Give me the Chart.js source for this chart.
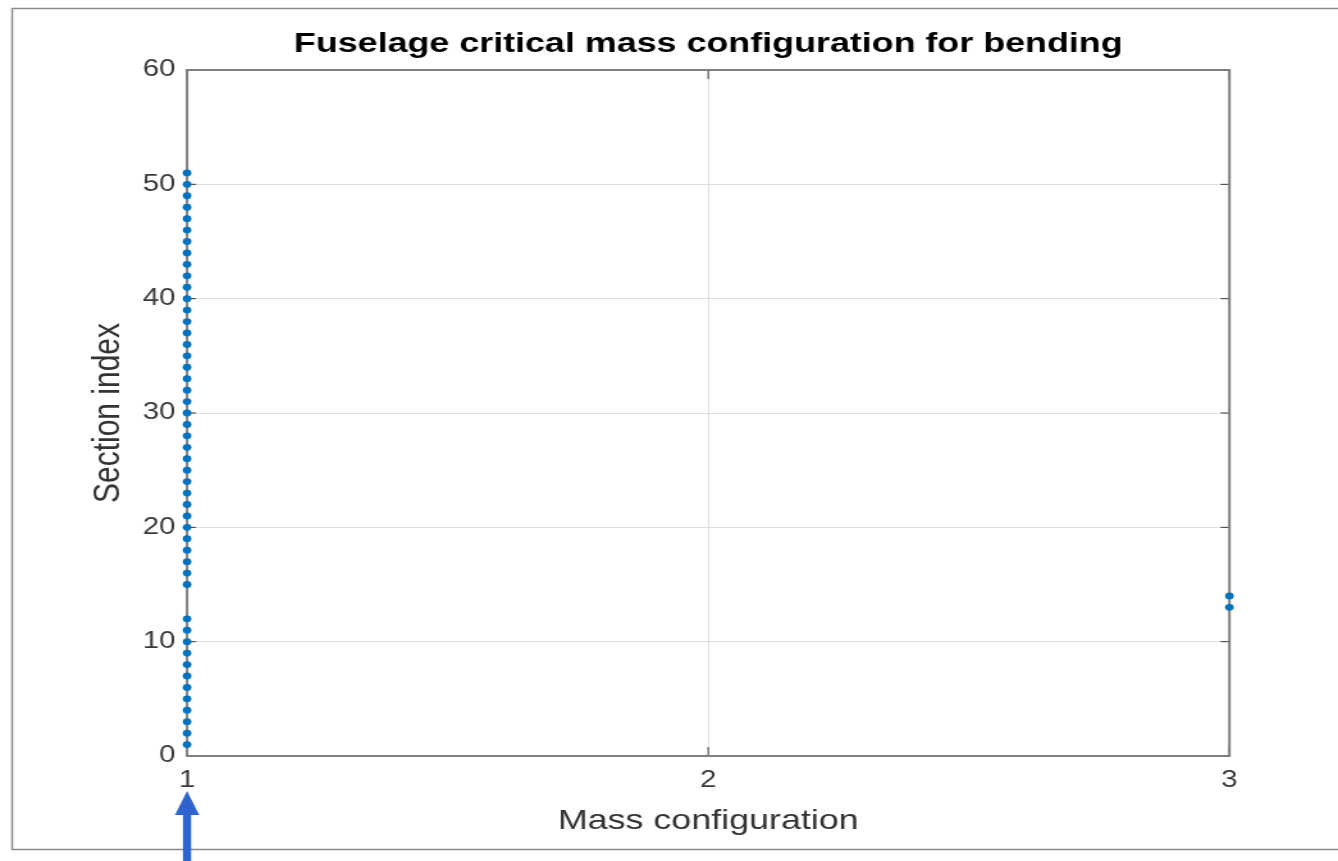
<!DOCTYPE html>
<html>
<head>
<meta charset="utf-8">
<script src="https://cdn.jsdelivr.net/npm/chart.js@4"></script>
<style>
  html, body { margin: 0; padding: 0; background: #fff; overflow: hidden; }
</style>
</head>
<body>
<canvas id="chart" width="1045" height="861" style="width:1338px;height:861px;display:block"></canvas>
<script>
// the picture is stretched sideways, so the canvas is drawn narrow and widened by css
var TITLE = "Fuselage critical mass configuration for bending";
var X_LABEL = "Mass configuration";
var Y_LABEL = "Section index";

var massConfigs = [1, 2, 3];
var sectionTicks = [0, 10, 20, 30, 40, 50, 60];

// sections whose critical case is mass config 1
var sectionsConfig1 = [1, 2, 3, 4, 5, 6, 7, 8, 9, 10, 11, 12,
  15, 16, 17, 18, 19, 20, 21, 22, 23, 24, 25, 26, 27, 28, 29, 30,
  31, 32, 33, 34, 35, 36, 37, 38, 39, 40, 41, 42, 43, 44, 45, 46,
  47, 48, 49, 50, 51];
// sections whose critical case is mass config 3
var sectionsConfig3 = [13, 14];

var POINT_COLOR = "#0072BD";
var AXIS_COLOR = "#7f7f7f";
var TICK_COLOR = "#3a3a3a";
var GRID_COLOR = "#dedede";

function toPoints(config, sections) {
  return sections.map(function (s) { return {x: config, y: s}; });
}

var matlabBox = {
  id: "matlabBox",
  beforeDatasetsDraw: function (chart) {
    var ctx = chart.ctx, a = chart.chartArea;
    var xs = chart.scales.x, ys = chart.scales.y;
    ctx.save();
    // inward tick marks on all four sides
    ctx.strokeStyle = TICK_COLOR;
    ctx.lineWidth = 1;
    ctx.beginPath();
    massConfigs.forEach(function (v) {
      var px = xs.getPixelForValue(v);
      ctx.moveTo(px, a.bottom); ctx.lineTo(px, a.bottom - 9);
      ctx.moveTo(px, a.top); ctx.lineTo(px, a.top + 9);
    });
    sectionTicks.forEach(function (v) {
      var py = ys.getPixelForValue(v);
      ctx.moveTo(a.left, py); ctx.lineTo(a.left + 7, py);
      ctx.moveTo(a.right, py); ctx.lineTo(a.right - 7, py);
    });
    ctx.stroke();
    // axes box
    ctx.strokeStyle = AXIS_COLOR;
    ctx.lineWidth = 2;
    ctx.strokeRect(a.left, a.top, a.right - a.left, a.bottom - a.top);
    ctx.restore();
  },
  afterDraw: function (chart) {
    var ctx = chart.ctx, a = chart.chartArea;
    ctx.save();
    // title, centred on the axes like matlab does
    ctx.fillStyle = "#000";
    ctx.font = "bold 28px 'Liberation Sans', Arial, sans-serif";
    ctx.textAlign = "center";
    ctx.textBaseline = "middle";
    ctx.fillText(TITLE, (a.left + a.right) / 2, 44);
    // outer frame of the screenshot
    ctx.strokeStyle = "#8a8a8a";
    ctx.lineWidth = 1.5;
    ctx.beginPath();
    ctx.moveTo(chart.width + 2, 8.5);
    ctx.lineTo(9.5, 8.5);
    ctx.lineTo(9.5, 849.5);
    ctx.lineTo(chart.width + 2, 849.5);
    ctx.stroke();
    // blue arrow under config 1
    var ax = chart.scales.x.getPixelForValue(massConfigs[0]);
    ctx.fillStyle = "#2f64cf";
    ctx.beginPath();
    ctx.moveTo(ax, 791);
    ctx.lineTo(ax + 9.5, 815);
    ctx.lineTo(ax + 3.2, 815);
    ctx.lineTo(ax + 3.2, 861);
    ctx.lineTo(ax - 3.2, 861);
    ctx.lineTo(ax - 3.2, 815);
    ctx.lineTo(ax - 9.5, 815);
    ctx.closePath();
    ctx.fill();
    ctx.restore();
  }
};

new Chart(document.getElementById("chart"), {
  type: "scatter",
  data: {
    datasets: [{
      label: "config 1",
      data: toPoints(massConfigs[0], sectionsConfig1),
      backgroundColor: POINT_COLOR,
      borderColor: POINT_COLOR,
      pointRadius: 3.4,
      borderWidth: 0,
      clip: false
    }, {
      label: "config 3",
      data: toPoints(massConfigs[2], sectionsConfig3),
      backgroundColor: POINT_COLOR,
      borderColor: POINT_COLOR,
      pointRadius: 3.4,
      borderWidth: 0,
      clip: false
    }]
  },
  options: {
    responsive: false,
    animation: false,
    devicePixelRatio: 1,
    layout: { padding: { left: 0, right: 84.8, top: 70, bottom: 0 } },
    plugins: {
      legend: { display: false },
      title: { display: false },
      tooltip: { enabled: false }
    },
    scales: {
      x: {
        type: "linear",
        min: 1,
        max: 3,
        afterFit: function (scale) { scale.height = 105; },
        afterBuildTicks: function (scale) {
          scale.ticks = massConfigs.map(function (v) { return {value: v}; });
        },
        grid: { color: GRID_COLOR, lineWidth: 1, drawTicks: false },
        border: { display: false },
        ticks: {
          padding: 11,
          color: TICK_COLOR,
          font: { family: "'Liberation Sans', Arial, sans-serif", size: 23 },
          maxRotation: 0
        },
        title: {
          display: true,
          text: X_LABEL,
          color: "#333",
          font: { family: "'Liberation Sans', Arial, sans-serif", size: 28 },
          padding: { top: 0, bottom: 23 }
        }
      },
      y: {
        type: "linear",
        min: 0,
        max: 60,
        afterFit: function (scale) { scale.width = 146.1; },
        afterBuildTicks: function (scale) {
          scale.ticks = sectionTicks.map(function (v) { return {value: v}; });
        },
        grid: { color: GRID_COLOR, lineWidth: 1, drawTicks: false },
        border: { display: false },
        ticks: {
          padding: 9,
          color: TICK_COLOR,
          font: { family: "'Liberation Sans', Arial, sans-serif", size: 23 }
        },
        title: {
          display: true,
          text: Y_LABEL,
          color: "#333",
          font: { family: "'Liberation Sans', Arial, sans-serif", size: 30 },
          padding: { top: 67, bottom: 0 }
        }
      }
    }
  },
  plugins: [matlabBox]
});
</script>
</body>
</html>
